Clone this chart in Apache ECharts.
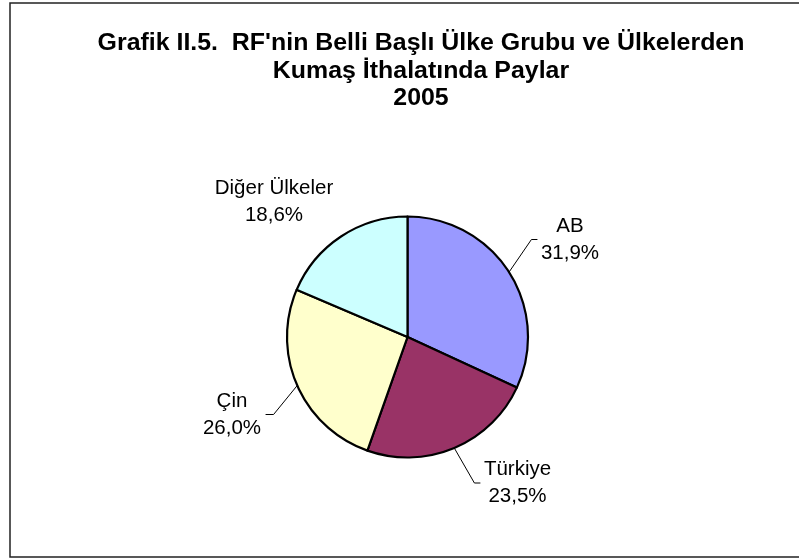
<!DOCTYPE html>
<html>
<head>
<meta charset="utf-8">
<script src="https://cdn.jsdelivr.net/npm/echarts@6/dist/echarts.min.js"></script>
<style>
html,body{margin:0;padding:0;background:#fff;}
#c{width:799px;height:558px;}
</style>
</head>
<body>
<div id="c"></div>
<script>
const titleLines = ["Grafik II.5.  RF'nin Belli Başlı Ülke Grubu ve Ülkelerden", "Kumaş İthalatında Paylar", "2005"];
const categories = ['AB', 'Türkiye', 'Çin', 'Diğer Ülkeler'];
const values = [31.9, 23.5, 26.0, 18.6];
const colors = ['#9999FF', '#993366', '#FFFFCC', '#CCFFFF'];

// label layout (positions only)
const labelPos = [[570, 239.5], [517.5, 483], [232, 414.5], [274, 202]];
const labelSide = ['right', 'right', 'left', 'none'];

const CX = 407.5, CY = 337, R = 120.5;

const chart = echarts.init(document.getElementById('c'), null, {renderer: 'canvas'});

const titleGraphics = titleLines.map((t, i) => ({
  type: 'text',
  x: 421,
  y: 44 + i * 27.5,
  scaleX: 1.06,
  style: {
    x: 0, y: 0,
    text: t,
    font: 'bold 23.5px "Liberation Sans", Arial, sans-serif',
    fill: '#000',
    textAlign: 'center',
    textVerticalAlign: 'middle'
  },
  silent: true
}));

const total = values.reduce((a, b) => a + b, 0);

chart.setOption({
  animation: false,
  graphic: [
    {type: 'rect', shape: {x: 10, y: 3, width: 800, height: 554}, style: {fill: 'none', stroke: '#222', lineWidth: 1.5}, silent: true, z: -10},
    ...titleGraphics
  ],
  series: [{
    type: 'pie',
    center: [CX, CY],
    radius: [0, R],
    startAngle: 90,
    clockwise: true,
    avoidLabelOverlap: false,
    emphasis: {disabled: true},
    itemStyle: {borderColor: '#000', borderWidth: 2.2},
    label: {
      show: true,
      position: 'outside',
      color: '#000',
      fontFamily: '"Liberation Sans", Arial, sans-serif',
      fontSize: 20.5,
      lineHeight: 27,
      align: 'center',
      formatter: p => p.name + '\n' + values[p.dataIndex].toFixed(1).replace('.', ',') + '%'
    },
    labelLine: {show: true, lineStyle: {color: '#000', width: 1}},
    labelLayout: function (params) {
      const i = params.dataIndex;
      const p = labelPos[i];
      const w = params.labelRect.width;
      const res = {x: p[0], y: p[1], align: 'center', verticalAlign: 'middle'};
      if (labelSide[i] !== 'none') {
        let start;
        if (params.labelLinePoints && params.labelLinePoints[0]) {
          start = params.labelLinePoints[0];
        } else {
          let before = 0;
          for (let k = 0; k < i; k++) before += values[k];
          const mid = (before + values[i] / 2) / total * Math.PI * 2;
          start = [CX + R * Math.sin(mid), CY - R * Math.cos(mid)];
        }
        let end, elbow;
        if (labelSide[i] === 'right') {
          end = [p[0] - w / 2 - 3.5, p[1]];
          elbow = [end[0] - 6, p[1]];
        } else {
          end = [p[0] + w / 2 + 4.5, p[1]];
          elbow = [end[0] + 8, p[1]];
        }
        res.labelLinePoints = [start, elbow, end];
      }
      return res;
    },
    data: categories.map((c, i) => ({
      name: c,
      value: values[i],
      itemStyle: {color: colors[i]},
      labelLine: {show: labelSide[i] !== 'none'}
    }))
  }]
});
</script>
</body>
</html>
